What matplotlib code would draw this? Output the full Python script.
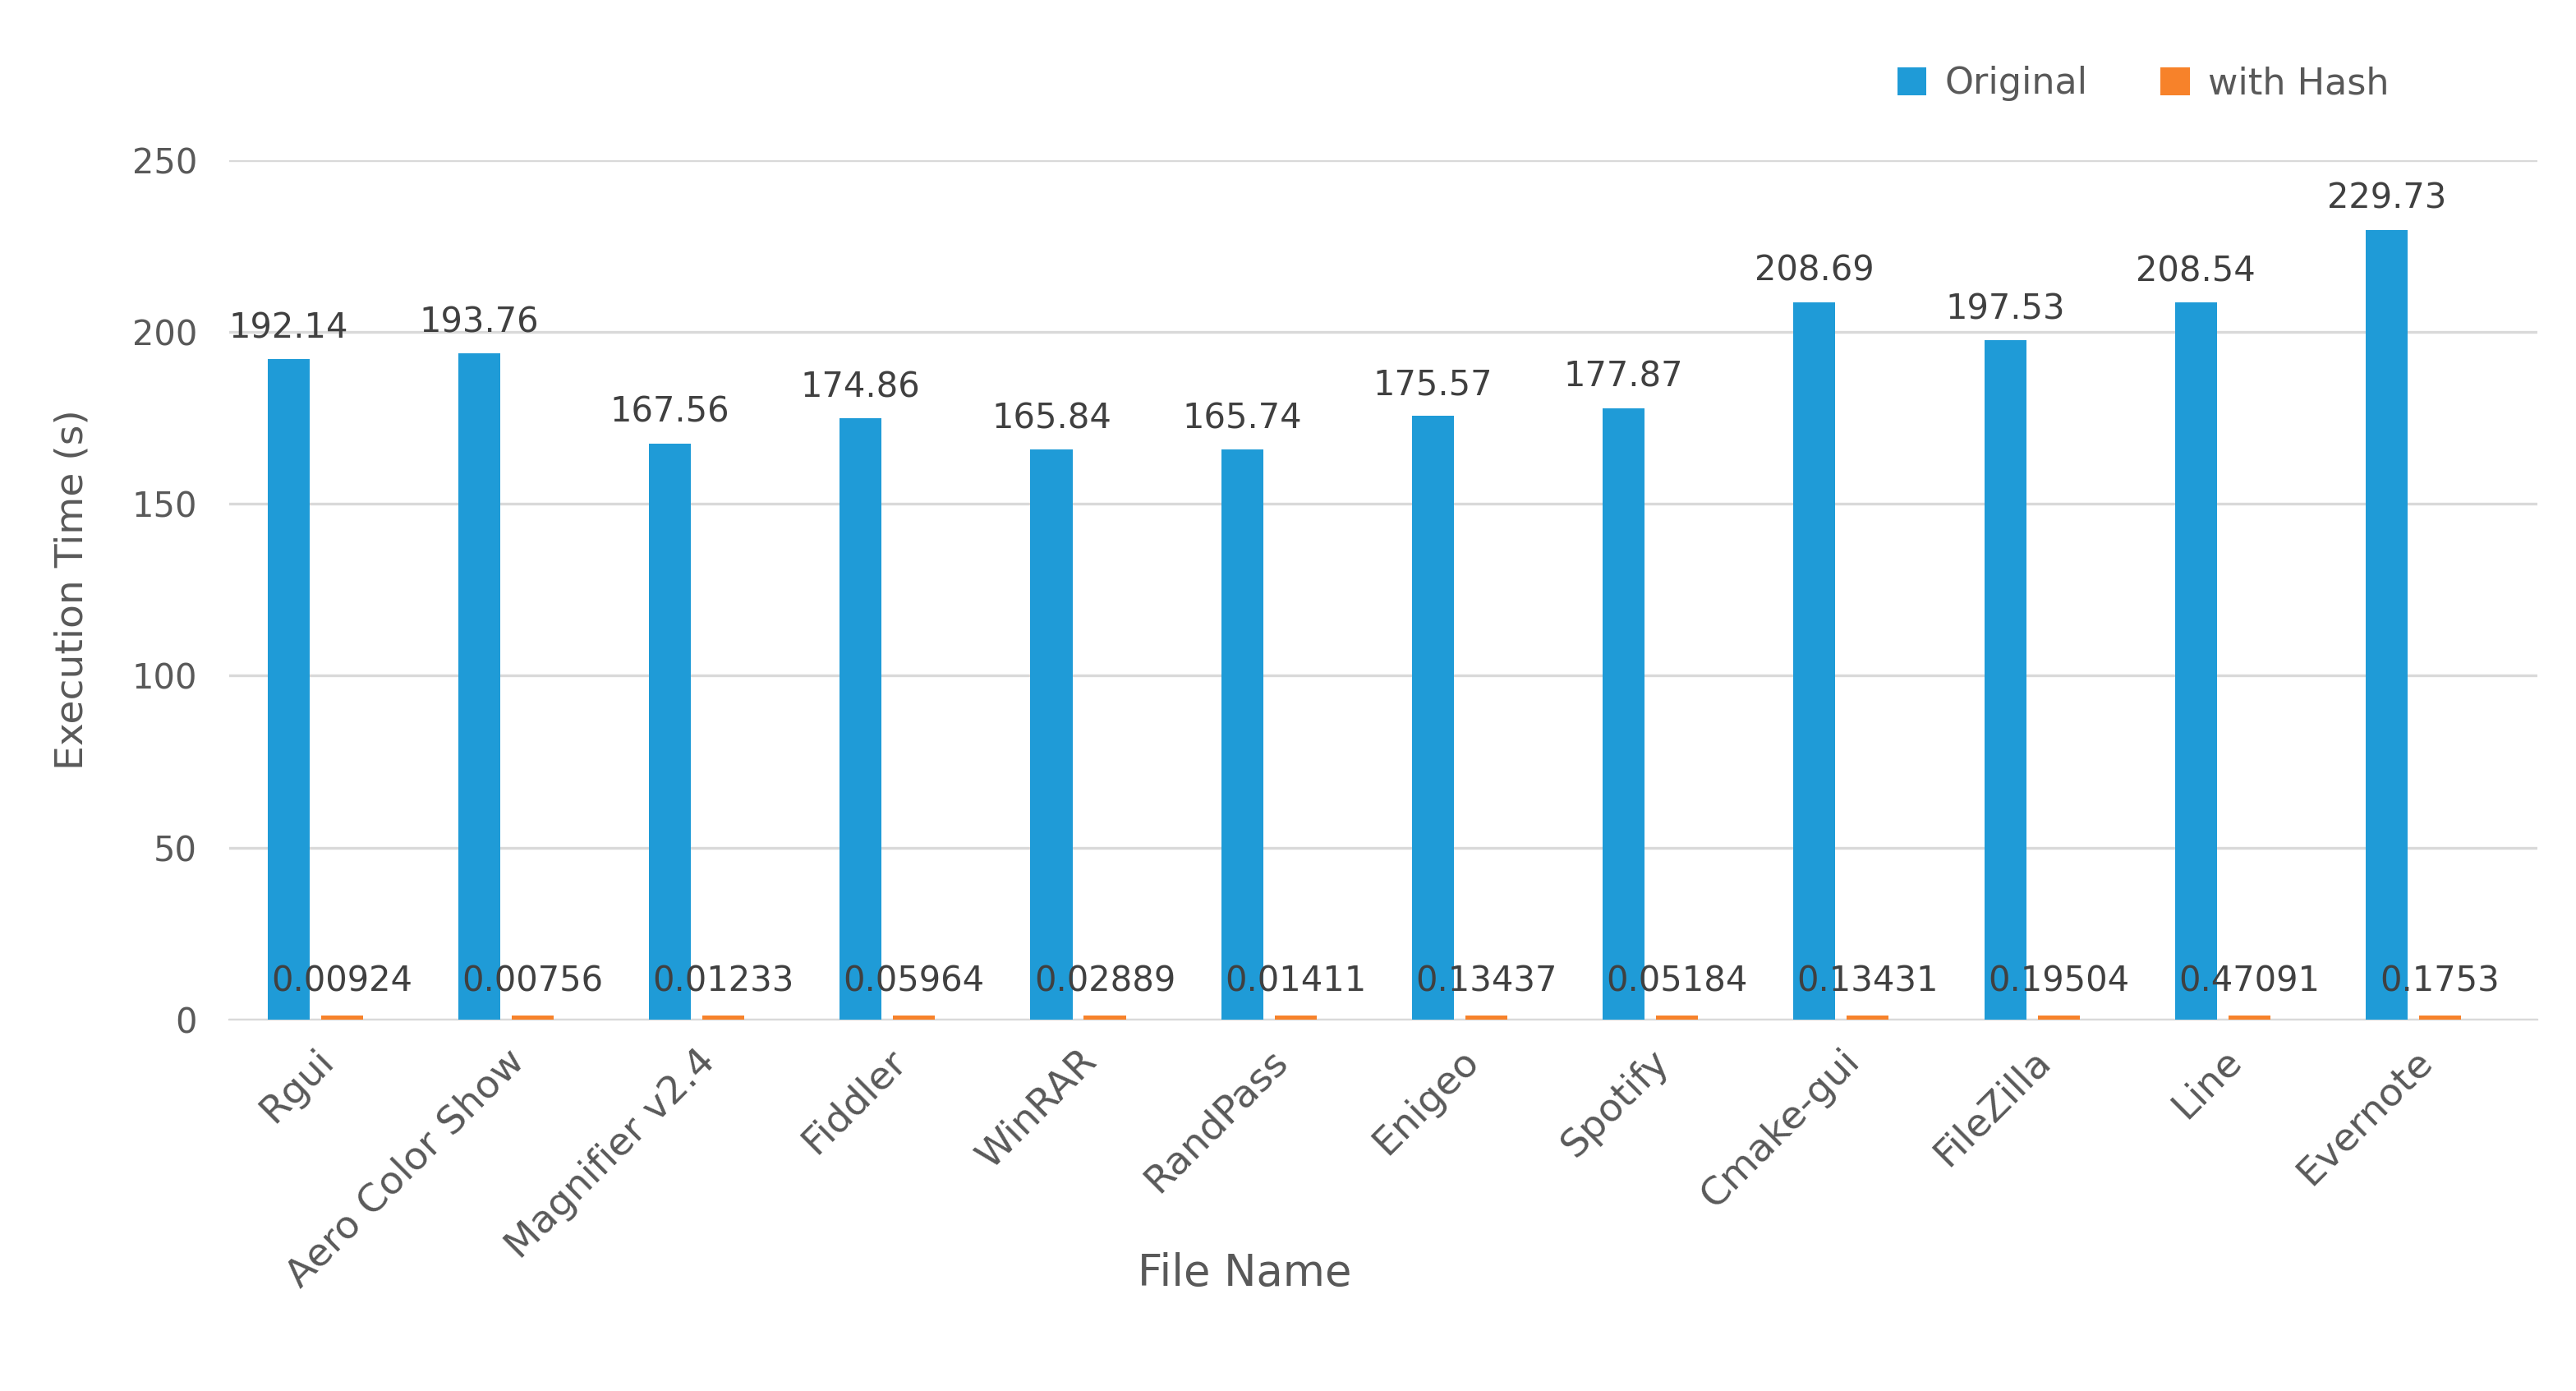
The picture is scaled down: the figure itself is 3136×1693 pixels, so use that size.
import matplotlib.pyplot as plt
import numpy as np

files = ["Rgui", "Aero Color Show", "Magnifier v2.4", "Fiddler", "WinRAR", "RandPass",
         "Enigeo", "Spotify", "Cmake-gui", "FileZilla", "Line", "Evernote"]
original = [192.14, 193.76, 167.56, 174.86, 165.84, 165.74, 175.57, 177.87, 208.69, 197.53, 208.54, 229.73]
with_hash = [0.00924, 0.00756, 0.01233, 0.05964, 0.02889, 0.01411, 0.13437, 0.05184, 0.13431, 0.19504, 0.47091, 0.1753]
hash_labels = ["0.00924", "0.00756", "0.01233", "0.05964", "0.02889", "0.01411",
               "0.13437", "0.05184", "0.13431", "0.19504", "0.47091", "0.1753"]

grey = "#595959"
blue = "#1F9BD7"
orange = "#F7822A"

fig = plt.figure(figsize=(15.68, 8.465), dpi=200)
ax = fig.add_axes([0.089, 0.267, 0.896, 0.618])

x = np.arange(len(files))
w = 0.22
ax.bar(x - 0.14, original, w, color=blue, label="Original", zorder=3)
ax.bar(x + 0.14, [max(v, 1.2) for v in with_hash], w, color=orange, label="with Hash", zorder=3)

for xi, v in zip(x, original):
    ax.text(xi - 0.14, v + 4, f"{v:.2f}", ha="center", va="bottom", fontsize=15, color="#404040")
for xi, s in zip(x, hash_labels):
    ax.text(xi + 0.14, 6, s, ha="center", va="bottom", fontsize=15, color="#404040")

ax.set_ylim(0, 250)
ax.set_xlim(-0.45, len(files) - 0.35)
ax.set_yticks(range(0, 251, 50))
ax.yaxis.grid(True, color="#D9D9D9", linewidth=1.2, zorder=0)
ax.set_xticks(x)
ax.set_xticklabels(files, rotation=45, ha="right", rotation_mode="anchor", fontsize=17, color=grey)
ax.tick_params(axis="y", labelsize=15, colors=grey, length=0, pad=14)
ax.tick_params(axis="x", length=0, pad=10)
for s in ["top", "right", "left"]:
    ax.spines[s].set_visible(False)
ax.spines["bottom"].set_color("#D9D9D9")
ax.set_ylabel("Execution Time (s)", fontsize=17, color=grey, labelpad=18)
ax.set_xlabel("File Name", fontsize=19, color=grey)
ax.xaxis.set_label_coords(0.44, -0.27)

ax.legend(loc="lower right", bbox_to_anchor=(0.95, 1.03), ncol=2, frameon=False, fontsize=16,
          labelcolor=grey, handlelength=0.8, handleheight=0.8, handletextpad=0.5, columnspacing=2.0)

fig.savefig("out.png")
